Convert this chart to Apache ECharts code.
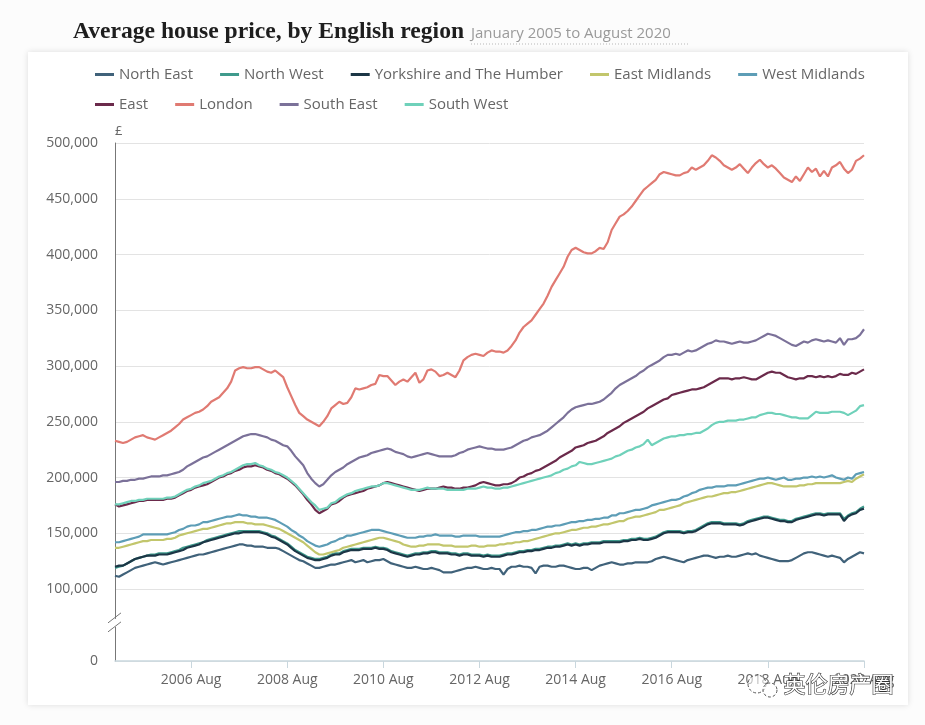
<!DOCTYPE html>
<html><head><meta charset="utf-8">
<script src="https://cdn.jsdelivr.net/npm/echarts@6/dist/echarts.min.js"></script>
<style>
html,body{margin:0;padding:0;background:#fcfcfc;width:925px;height:725px;overflow:hidden;}
#card{position:absolute;left:28px;top:52px;width:880px;height:653px;background:#fff;box-shadow:0 0 6px rgba(0,0,0,0.13);}
#chart{position:absolute;left:0;top:0;width:925px;height:725px;}
</style></head><body>
<div id="card"></div><div id="chart"></div>
<script>
// Average house price (£ thousands), monthly Jan 2005 – Aug 2020
const northEast = [
112,111,113,115,117,119,120,121,122,123,124,123,
122,123,124,125,126,127,128,129,130,131,131,132,
133,134,135,136,137,138,139,140,140,139,139,138,
138,138,137,137,137,136,134,132,130,128,126,125,
123,121,119,119,120,121,122,122,123,124,125,126,
124,125,126,124,125,126,126,127,125,123,122,121,
120,119,119,120,119,118,118,119,118,117,115,115,
115,116,117,118,119,119,120,119,118,118,119,118,
118,113,118,120,120,121,120,120,119,114,120,121,
121,120,120,121,121,120,119,118,118,119,119,117,
119,121,122,123,124,123,122,122,123,123,124,124,
124,124,125,127,128,129,128,127,126,125,124,126,
127,128,129,130,130,129,128,129,129,130,129,129,
130,131,132,131,132,130,129,128,127,126,125,125,
125,126,128,130,132,133,133,132,131,130,129,130,
129,128,124,127,129,131,133,132];
const northWest = [
119,120,121,123,125,127,128,129,130,131,131,132,
132,132,133,134,135,137,138,139,140,141,142,144,
145,146,147,148,149,150,151,152,152,152,152,152,
152,151,150,148,147,145,143,141,138,135,133,131,
129,128,127,127,128,129,131,132,132,134,135,136,
136,136,137,137,137,138,137,137,136,134,133,132,
131,130,131,132,132,133,133,134,134,133,133,133,
132,132,131,132,132,131,131,131,130,131,130,130,
130,131,132,132,133,134,134,135,135,136,136,137,
138,138,139,139,140,141,140,141,140,141,141,142,
142,142,143,143,143,143,143,144,144,145,145,146,
145,145,146,147,149,151,152,152,152,152,151,152,
152,153,155,157,159,160,160,160,159,159,159,159,
158,159,161,162,163,164,165,165,164,163,162,162,
161,161,163,164,165,166,167,168,168,167,168,168,
168,168,163,166,168,169,172,174];
const yorkshire = [
120,121,121,123,125,127,128,129,130,130,130,131,
131,131,132,133,134,135,137,138,139,140,142,143,
144,145,146,147,148,149,150,150,151,151,151,151,
151,150,149,147,146,144,142,140,137,134,132,130,
128,127,126,126,127,128,130,131,131,133,134,135,
135,135,136,136,136,137,136,136,135,133,132,131,
130,129,130,131,131,132,132,133,133,132,132,132,
131,131,130,131,131,130,130,130,129,130,129,129,
129,130,131,131,132,133,133,134,134,135,135,136,
137,137,138,138,139,140,139,140,139,140,140,141,
141,141,142,142,142,142,142,143,143,144,144,145,
144,144,145,146,148,150,151,151,151,151,150,151,
151,152,154,156,158,159,159,159,158,158,158,158,
157,158,160,161,162,163,164,164,163,162,161,161,
160,160,162,163,164,165,166,167,167,166,167,167,
167,167,161,165,167,168,171,172];
const eastMidlands = [
137,137,138,139,140,141,142,143,143,144,144,144,
144,145,145,146,148,149,150,151,152,153,154,154,
155,156,157,158,159,159,160,160,160,159,159,158,
158,158,157,156,155,154,152,150,148,146,144,142,
139,136,133,131,131,132,133,134,135,137,138,139,
140,141,142,143,144,145,146,146,145,144,143,142,
140,139,138,138,139,139,140,140,140,140,139,139,
139,138,138,138,138,139,139,138,138,139,139,139,
140,140,141,141,142,142,143,143,144,145,146,147,
148,149,150,150,151,152,153,153,154,155,155,156,
156,157,158,158,159,160,161,161,163,164,165,165,
166,167,168,169,171,171,172,173,174,175,177,178,
179,180,181,182,183,183,184,185,186,186,187,187,
188,189,190,191,192,193,194,195,195,194,193,192,
192,192,192,193,193,194,194,195,195,195,195,195,
195,195,196,197,196,199,201,203];
const westMidlands = [
142,142,143,144,145,146,147,149,149,149,149,149,
149,149,150,151,153,154,156,157,157,158,160,160,
161,162,163,164,165,165,166,167,166,166,165,165,
164,164,164,163,162,160,158,156,153,151,148,146,
143,141,139,138,139,140,142,143,145,146,148,148,
149,150,151,152,153,153,153,152,151,150,149,148,
147,146,146,146,147,147,148,148,149,148,148,148,
148,147,147,148,148,148,148,147,147,147,147,147,
147,148,149,150,151,151,152,152,153,153,154,155,
156,156,157,157,158,159,160,160,161,161,162,162,
163,163,164,164,166,166,168,168,169,170,171,171,
172,173,175,176,177,178,179,180,180,181,183,184,
186,187,189,190,191,191,192,192,192,193,193,193,
194,195,196,197,198,199,199,200,199,198,199,200,
198,198,199,199,200,200,201,200,201,200,201,202,
200,199,198,200,199,203,204,205];
const east = [
176,174,175,176,177,178,179,179,180,180,180,180,
180,181,181,182,184,186,188,189,191,192,193,194,
196,198,200,201,203,204,206,207,209,210,210,211,
210,209,207,206,204,203,201,199,196,193,189,185,
180,176,171,168,170,172,176,177,179,182,184,185,
186,187,188,190,191,192,193,195,196,195,194,193,
192,191,190,189,188,189,190,190,190,191,192,191,
191,190,190,191,191,192,193,195,196,195,194,193,
193,194,194,195,197,200,201,203,204,206,207,209,
211,213,215,218,220,222,224,227,228,229,231,232,
233,235,237,240,242,244,246,249,251,253,255,257,
259,262,264,266,268,270,271,274,275,276,277,278,
279,279,280,281,283,285,287,289,289,289,288,289,
289,290,289,288,288,290,292,294,295,294,294,292,
290,289,288,289,289,291,291,290,291,290,291,290,
291,293,292,292,294,293,295,297];
const london = [
233,232,231,232,234,236,237,238,236,235,234,236,
238,240,242,245,248,252,254,256,258,259,261,264,
268,270,272,276,280,286,296,298,299,298,298,299,
299,297,295,294,296,293,290,281,273,265,258,255,
252,250,248,246,250,255,262,265,268,266,267,272,
280,279,280,281,283,284,292,291,291,287,283,286,
288,286,290,294,285,288,296,297,295,291,292,294,
292,290,296,305,308,310,311,310,309,312,314,313,
313,312,314,318,323,330,335,338,341,346,351,356,
363,371,377,383,389,398,404,406,404,402,401,401,
403,406,405,411,422,428,434,436,439,443,448,453,
458,461,464,467,472,474,473,472,471,471,473,474,
478,476,478,480,484,489,487,484,480,478,476,478,
481,477,473,478,482,485,481,478,480,477,473,469,
467,465,470,466,472,478,474,477,470,475,470,478,
480,483,477,473,476,484,486,489];
const southEast = [
196,196,197,197,198,198,199,199,200,201,201,201,
202,202,203,204,205,207,210,212,214,216,218,219,
221,223,225,227,229,231,233,235,237,238,239,239,
238,237,236,234,233,231,229,228,224,219,215,211,
204,199,195,192,194,198,202,205,207,209,212,214,
216,218,219,220,222,223,224,225,226,225,223,222,
221,219,218,219,220,221,222,221,220,219,219,219,
219,220,222,223,225,226,227,228,227,226,226,225,
225,225,226,227,229,231,233,234,236,237,238,240,
242,245,248,251,254,258,261,263,264,265,266,266,
267,268,270,273,276,280,283,285,287,289,291,294,
296,299,301,303,305,308,310,310,311,310,312,314,
313,314,316,318,320,321,323,322,322,321,320,321,
322,321,321,322,323,325,327,329,328,327,325,323,
321,319,318,320,322,321,323,324,323,322,323,322,
321,325,319,324,324,325,328,333];
const southWest = [
176,176,177,178,179,179,180,180,181,181,181,181,
181,182,182,183,185,187,189,190,192,193,195,196,
197,199,201,202,204,205,207,209,211,212,212,213,
211,210,208,207,205,204,202,200,197,194,190,186,
182,178,175,171,172,173,177,178,181,183,185,186,
188,189,190,191,192,192,193,195,195,194,193,192,
191,190,189,189,189,190,191,190,190,190,190,189,
189,189,189,189,190,190,190,191,192,191,191,190,
190,191,191,192,193,194,195,196,197,198,199,200,
201,202,204,205,207,208,210,211,214,213,212,212,
213,214,215,216,217,219,220,222,224,225,227,228,
230,234,229,231,233,235,236,237,237,238,238,239,
239,240,240,242,244,247,249,250,250,251,251,251,
252,252,253,254,254,256,257,258,258,257,257,256,
255,254,254,253,253,253,256,259,258,258,258,259,
259,259,258,256,258,260,264,265];

const seriesNames = ['North East','North West','Yorkshire and The Humber','East Midlands','West Midlands','East','London','South East','South West'];
const seriesValues = [northEast,northWest,yorkshire,eastMidlands,westMidlands,east,london,southEast,southWest];
const seriesColors = ['#40627a','#3f9a8c','#1c3646','#c2c66c','#5d9db6','#6b2a4b','#e07a72','#7b7199','#6fd1ba'];

const monthNames = ['Jan','Feb','Mar','Apr','May','Jun','Jul','Aug','Sep','Oct','Nov','Dec'];
const categories = [];
for (let y = 2005; y <= 2020; y++) for (let m = 0; m < 12; m++) { if (y === 2020 && m > 7) break; categories.push(y + ' ' + monthNames[m]); }
const xTickLabels = ['2006 Aug','2008 Aug','2010 Aug','2012 Aug','2014 Aug','2016 Aug','2018 Aug','2020 Aug'];
const yTickValues = [0,100,150,200,250,300,350,400,450,500]; // £ thousands

// broken axis: 0–100k compressed, linear above 100k
const toAxis = v => v >= 100 ? v - 35.5 : v * 0.645;
const fromAxis = t => t >= 64.5 ? t + 35.5 : t / 0.645;

const chart = echarts.init(document.getElementById('chart'), null, {renderer:'canvas'});
const FONT = '"Open Sans", sans-serif';
const tickFilter = (i, v) => xTickLabels.indexOf(categories[i]) >= 0;
const legendText = { color: '#666', fontSize: 15, fontFamily: FONT };

const option = {
  animation: false,
  backgroundColor: 'transparent',
  color: seriesColors,
  grid: { left: 115, right: 61, top: 143, bottom: 64 },
  legend: [
    { data: seriesNames.slice(0,5), left: 90, top: 62, icon: 'rect', itemWidth: 19, itemHeight: 3, itemGap: 27,
      textStyle: legendText, selectedMode: false },
    { data: seriesNames.slice(5), left: 90, top: 92, icon: 'rect', itemWidth: 19, itemHeight: 3, itemGap: 27,
      textStyle: legendText, selectedMode: false }
  ],
  xAxis: {
    type: 'category', data: categories, boundaryGap: false,
    axisLine: { lineStyle: { color: '#c9d7de', width: 1.5 } },
    axisTick: { show: true, interval: tickFilter, length: 7, lineStyle: { color: '#c9d7de' } },
    axisLabel: { interval: tickFilter, color: '#666', fontSize: 14, fontFamily: FONT, margin: 12 },
    splitLine: { show: false }
  },
  yAxis: {
    type: 'value', min: 0, max: toAxis(500),
    name: '£', nameLocation: 'end', nameGap: 5,
    nameTextStyle: { color: '#666', fontSize: 13, fontFamily: FONT, align: 'left', verticalAlign: 'bottom' },
    axisLine: { show: true, lineStyle: { color: '#777', width: 1 } },
    axisTick: { show: false, customValues: yTickValues.map(toAxis) },
    axisLabel: { customValues: yTickValues.map(toAxis), color: '#666', fontSize: 14, fontFamily: FONT, margin: 17,
      formatter: t => (Math.round(fromAxis(t)) * 1000).toLocaleString('en-US') },
    splitLine: { show: true, lineStyle: { color: '#e3e3e3', width: 1 } }
  },
  series: seriesNames.map((n, i) => ({
    name: n, type: 'line', showSymbol: false, symbol: 'none',
    lineStyle: { width: 2.2, color: seriesColors[i] }, itemStyle: { color: seriesColors[i] },
    data: seriesValues[i].map(toAxis)
  })),
  graphic: [
    { type: 'text', left: 73, top: 20, style: { text: 'Average house price, by English region', fill: '#1e1e1e',
      font: 'bold 23.6px "Liberation Serif", serif' } },
    { type: 'text', left: 471, top: 26, style: { text: 'January 2005 to August 2020', fill: '#9a9a9a',
      font: '15px "Open Sans", sans-serif' } },
    { type: 'line', shape: { x1: 471, y1: 44, x2: 690, y2: 44 }, style: { stroke: '#b8b8b8', lineWidth: 1, lineDash: [1, 2] } }
  ]
};
chart.setOption(option);

// axis break marker placed via the axis scale
const bx = chart.convertToPixel({ gridIndex: 0 }, [0, toAxis(53)]);
const ax = chart.convertToPixel({ xAxisIndex: 0 }, 0) - 0;
chart.setOption({ graphic: option.graphic.concat([
  { type: 'rect', shape: { x: ax - 3, y: bx[1] - 4, width: 6, height: 8 }, style: { fill: '#fff' }, z: 50 },
  { type: 'line', shape: { x1: ax - 7, y1: bx[1] - 0, x2: ax + 6, y2: bx[1] - 10 }, style: { stroke: '#777', lineWidth: 1 }, z: 51 },
  { type: 'line', shape: { x1: ax - 7, y1: bx[1] + 9, x2: ax + 6, y2: bx[1] - 1 }, style: { stroke: '#777', lineWidth: 1 }, z: 51 },
  { type: 'circle', shape: { cx: 757, cy: 684, r: 9 }, style: { fill: 'rgba(255,255,255,0.6)', stroke: '#555', lineWidth: 1, lineDash: [3, 2] }, z: 59 },
  { type: 'circle', shape: { cx: 770, cy: 690, r: 7 }, style: { fill: 'rgba(255,255,255,0.6)', stroke: '#555', lineWidth: 1, lineDash: [3, 2] }, z: 59 },
  { type: 'text', left: 783, top: 672, z: 60, style: { text: '英伦房产圈', fill: '#fff', stroke: '#333', lineWidth: 1.2,
      font: '22px "Noto Sans CJK SC", sans-serif' } }
]) });
</script></body></html>
